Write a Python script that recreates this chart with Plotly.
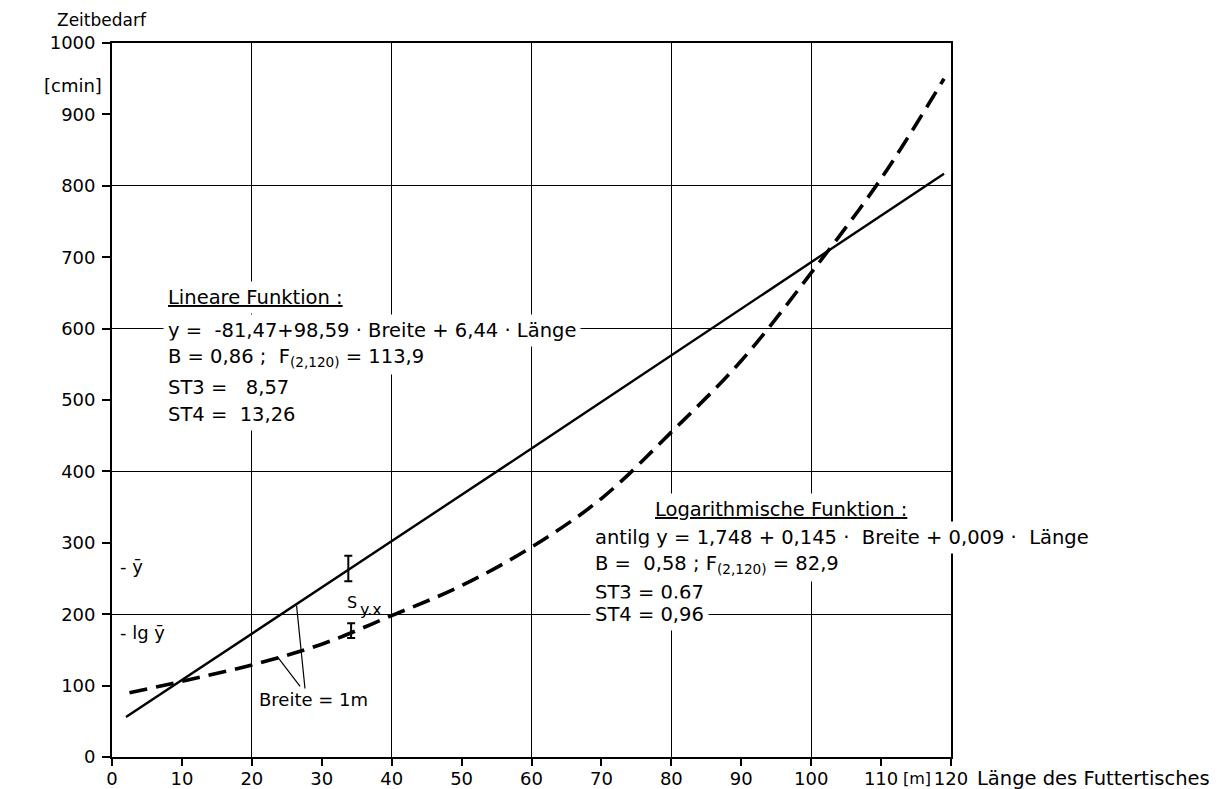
import plotly.graph_objects as go

# ---- data ----
lin_x = [2, 60, 119]
lin_y = [56, 432, 817]

log_x = [2.5, 10, 20, 30, 40, 50, 60, 70, 80, 90, 100, 110, 119]
log_y = [90, 106, 129, 158, 198, 240, 294, 362, 455, 555, 678, 810, 950]

err_x = [33.8, 34.2]
err_y = [264, 177]
err_v = [18, 10.5]

x_ticks = list(range(0, 121, 10))
y_ticks = list(range(0, 1001, 100))
x_grid = list(range(0, 121, 20))
y_grid = list(range(0, 1001, 200))

lin_lines = [
    "<u>Lineare Funktion :</u>",
    "y =  -81,47+98,59 · Breite + 6,44 · Länge",
    "B = 0,86 ;  F<sub>(2,120)</sub> = 113,9",
    "ST3 =   8,57",
    "ST4 =  13,26",
]
lin_pos = [(7.3, 644), (7.3, 598), (7.3, 559), (7.3, 517), (7.3, 479)]

log_lines = [
    "<u>Logarithmische Funktion :</u>",
    "antilg y = 1,748 + 0,145 ·  Breite + 0,009 ·  Länge",
    "B =  0,58 ; F<sub>(2,120)</sub> = 82,9",
    "ST3 = 0,67",
    "ST4 = 0,96",
]
log_pos = [(77.0, 346), (68.4, 308), (68.4, 270), (68.4, 231), (68.4, 199)]

leaders = [(26.9, 99, 23.7, 140), (27.6, 96, 26.4, 212)]

FONT = "DejaVu Sans"
fig = go.Figure()

# invisible trace so the grid axes exist
fig.add_trace(go.Scatter(x=[0, 120], y=[0, 1000], xaxis="x2", yaxis="y2",
                         mode="markers", marker=dict(opacity=0), hoverinfo="skip",
                         showlegend=False))

fig.add_trace(go.Scatter(x=lin_x, y=lin_y, mode="lines",
                         line=dict(color="black", width=2.4), showlegend=False))
fig.add_trace(go.Scatter(x=log_x, y=log_y, mode="lines", line_shape="spline",
                         line=dict(color="black", width=3.6, dash="18px,9px"),
                         showlegend=False))
fig.add_trace(go.Scatter(x=err_x, y=err_y, mode="markers",
                         marker=dict(size=1, color="black"),
                         error_y=dict(type="data", array=err_v, visible=True,
                                      color="black", thickness=2, width=4),
                         showlegend=False))


def txt(x, y, t, size=17, xanchor="center", xref="x", yref="y", **kw):
    d = dict(x=x, y=y, text=t, xanchor=xanchor, yanchor="middle",
             xref=xref, yref=yref, showarrow=False,
             font=dict(size=size, family=FONT, color="black"))
    d.update(kw)
    return d


ann = []
for t, (x, y) in zip(lin_lines, lin_pos):
    ann.append(txt(x, y, t, size=19.5, xanchor="left", bgcolor="white", borderpad=4))
for t, (x, y) in zip(log_lines, log_pos):
    ann.append(txt(x, y, t, size=19.5, xanchor="left", bgcolor="white", borderpad=4))

ann += [
    txt(28.8, 80, "Breite = 1m", size=18),
    txt(34.3, 217, "S", size=16),
    txt(37.1, 207, "y.x", size=16),
    txt(0.8, 267, "- ȳ", size=18, xanchor="left"),
    txt(0.8, 174, "- lg ȳ", size=18, xanchor="left"),
    txt(-0.068, 1.032, "Zeitbedarf", size=17, xanchor="left",
        xref="paper", yref="paper"),
    txt(-0.046, 0.941, "[cmin]", size=18, xref="paper", yref="paper"),
    txt(115.1, -0.03, "[m]", size=16, yref="paper"),
    txt(1.029, -0.03, "Länge des Futtertisches", size=19.5, xanchor="left",
        xref="paper", yref="paper"),
]

shapes = [dict(type="line", xref="x", yref="y", x0=a, y0=b, x1=c, y1=d,
               line=dict(color="black", width=1.2)) for a, b, c, d in leaders]

fig.update_layout(
    width=1224, height=789,
    margin=dict(l=112, r=273, t=43, b=32, autoexpand=False),
    paper_bgcolor="white", plot_bgcolor="white",
    font=dict(family=FONT, size=18, color="black"),
    showlegend=False,
    annotations=ann, shapes=shapes,
    xaxis=dict(range=[0, 120], tickvals=x_ticks, ticks="outside", ticklen=7,
               tickwidth=1.5, tickcolor="black", showgrid=False, zeroline=False,
               showline=True, linecolor="black", linewidth=1.8, mirror=True,
               ticklabelstandoff=-3, automargin=False,
               tickfont=dict(size=18, family=FONT)),
    yaxis=dict(range=[0, 1000], tickvals=y_ticks, ticks="outside", ticklen=8,
               tickwidth=1.5, tickcolor="black", showgrid=False, zeroline=False,
               showline=True, linecolor="black", linewidth=1.8, mirror=True,
               ticklabelstandoff=3, automargin=False,
               tickfont=dict(size=18, family=FONT)),
    xaxis2=dict(range=[0, 120], overlaying="x", tickvals=x_grid,
                showticklabels=False, ticks="", showgrid=True, automargin=False,
                gridcolor="black", gridwidth=1.2, zeroline=False, showline=False),
    yaxis2=dict(range=[0, 1000], overlaying="y", tickvals=y_grid,
                showticklabels=False, ticks="", showgrid=True, automargin=False,
                gridcolor="black", gridwidth=1.2, zeroline=False, showline=False),
)

fig.write_html("out.html")
